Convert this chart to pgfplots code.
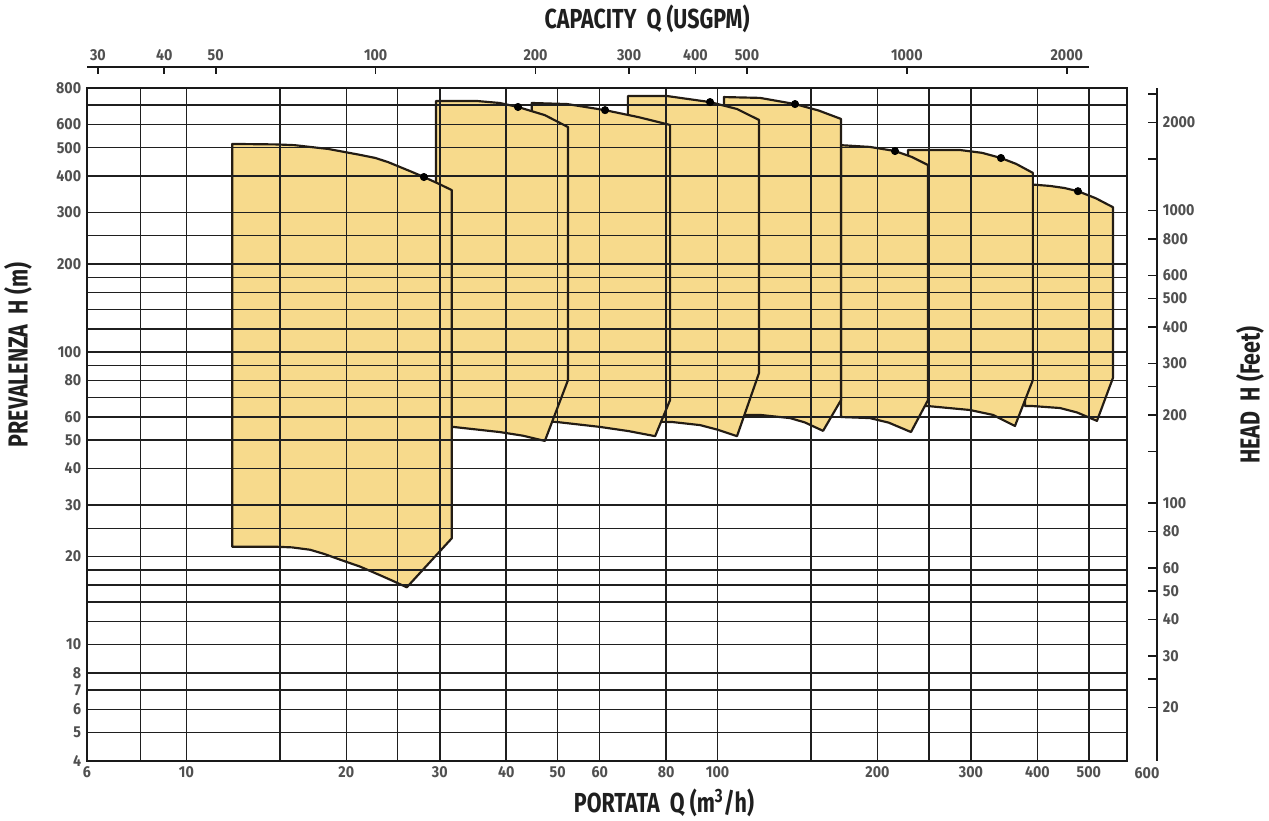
\documentclass[border=0pt]{standalone}
\usepackage{fontspec}
\setmainfont{Fira Sans}
\newfontfamily\labfont{Fira Sans}[FakeStretch=0.78]
\newfontfamily\tickfont{Fira Sans}[FakeStretch=0.9]
\usepackage{pgfplots}
\pgfplotsset{compat=1.18}
\definecolor{shapefill}{RGB}{247,218,140}
\definecolor{edge}{RGB}{35,28,20}
\definecolor{tickgray}{RGB}{80,80,80}
\begin{document}
\begin{tikzpicture}
\path[use as bounding box] (-52.2pt,-36pt) rectangle (709.2pt,456.6pt);
% main axis (m3/h, m)
\begin{axis}[
 at={(0pt,0pt)}, anchor=south west, scale only axis,
 width=624pt, height=403.8pt,
 xmode=log, ymode=log,
 xmin=6.5, xmax=590, ymin=4, ymax=800,
 axis on top,
 xtick={6.5,10,20,30,40,50,60,80,100,200,300,400,500},
 xticklabels={6,10,20,30,40,50,60,80,100,200,300,400,500},
 minor xtick={8.2,15,25,150,250},
 ytick={4,5,6,7,8,10,20,30,40,50,60,80,100,200,300,400,500,600,800},
 yticklabels={4,5,6,7,8,10,20,30,40,50,60,80,100,200,300,400,500,600,800},
 minor ytick={12,14,16,18,25,70,90,120,140,160,180,250,700},
 grid=both,
 major grid style={draw=black!88, line width=0.85pt},
 minor grid style={draw=black!88, line width=0.85pt},
 major tick length=0pt, minor tick length=0pt,
 axis line style={line width=1.7pt, draw=black!90},
 tick label style={font=\tickfont\bfseries\fontsize{9.5}{11}\selectfont, text=tickgray},
 clip=false,
]
\addplot[fill=shapefill, draw=edge, line width=1.3pt, line join=round] coordinates {(379.1,376)(400,373)(422.6,370)(450,364)(476.9,355)(515,336)(555.1,313)(555.1,81.6)(517.9,58.2)(475,62.2)(441.2,64.4)(392.4,65.4)(379.1,65.4)} -- cycle;
\addplot[fill=shapefill, draw=edge, line width=1.3pt, line join=round] coordinates {(228.3,491)(286,491)(315,480)(341.6,461)(365,440)(392.4,410)(392.4,80.3)(363,55.9)(330,61)(298.7,63.4)(249,65.4)(228.3,65.4)} -- cycle;
\addplot[fill=shapefill, draw=edge, line width=1.3pt, line join=round] coordinates {(170.8,510)(193.6,503)(215.8,487)(232,465)(249,436)(249,68.6)(231.3,53.3)(210,57.4)(193.6,59.5)(170.8,60)} -- cycle;
\addplot[fill=shapefill, draw=edge, line width=1.3pt, line join=round] coordinates {(102.8,745)(120.2,740)(139.9,705)(155,670)(170.8,627)(170.8,68.6)(158,53.8)(146,57.5)(136.9,59.5)(120.2,61)(102.8,61)} -- cycle;
\addplot[fill=shapefill, draw=edge, line width=1.3pt, line join=round] coordinates {(67.8,750.8)(80.4,750.8)(96.8,716)(108.8,678)(119.7,622)(119.7,84.9)(108.8,51.6)(100,54.3)(92.7,56.3)(82.1,57.7)(67.8,58)} -- cycle;
\addplot[fill=shapefill, draw=edge, line width=1.3pt, line join=round] coordinates {(44.7,711)(52.1,705)(61.4,672)(71,636)(81.4,598)(81.4,68.6)(76.3,51.6)(68,53.7)(60.1,55.5)(49.8,57.7)(44.7,58.3)} -- cycle;
\addplot[fill=shapefill, draw=edge, line width=1.3pt, line join=round] coordinates {(29.5,722)(35.3,722)(38.9,711)(42.1,689)(47.3,646)(52.3,588)(52.3,80.3)(47.3,49.7)(43,51.8)(38.9,53.3)(31.8,55.5)(29.5,55.5)} -- cycle;
\addplot[fill=shapefill, draw=edge, line width=1.3pt, line join=round] coordinates {(12.2,515)(14.8,513)(16,510)(17.1,503)(18.5,495)(19.9,483)(21.3,472)(22.7,461)(24,446)(25.2,430)(26.6,413)(28,397)(29.8,377)(31.6,358)(31.6,23.1)(26.0,15.7)(24.5,16.5)(23.1,17.3)(21.2,18.5)(19.5,19.5)(18.2,20.4)(17.1,21.1)(15.8,21.5)(14.8,21.6)(12.2,21.6)} -- cycle;
\addplot[only marks, mark=*, mark size=2.2pt, color=black] coordinates {(28,397)(42.1,689)(61.4,672)(96.8,716)(139.9,705)(215.8,487)(341.6,461)(476.9,355)};
\end{axis}
% top axis (USGPM)
\begin{axis}[
 at={(0pt,0pt)}, anchor=south west, scale only axis,
 width=601.2pt, height=416.4pt,
 xmode=log, xmin=28.62, xmax=2202.6, ymin=0, ymax=1,
 axis x line*=top, hide y axis,
 xtick={30,40,50,100,200,300,400,500,1000,2000},
 xticklabels={30,40,50,100,200,300,400,500,1000,2000},
 tick align=inside, major tick length=4.5pt,
 x axis line style={line width=1.7pt, draw=black!90},
 tick style={line width=1pt, draw=black!90},
 tick label style={font=\tickfont\bfseries\fontsize{9.5}{11}\selectfont, text=tickgray},
]
\end{axis}
% right axis (feet)
\begin{axis}[
 at={(632pt,0pt)}, anchor=south west, scale only axis,
 width=10pt, height=403.8pt,
 ymode=log, ymin=13.124, ymax=2624.8, xmin=0, xmax=1,
 axis y line*=right, hide x axis,
 ytick={20,30,40,50,60,80,100,200,300,400,500,600,800,1000,2000},
 yticklabels={20,30,40,50,60,80,100,200,300,400,500,600,800,1000,2000},
 minor ytick={25,150,250,1500,2500},
 tick align=inside, major tick length=5.4pt, minor tick length=5.4pt,
 y axis line style={line width=1.7pt, draw=black!90},
 tick style={line width=1pt, draw=black!90},
 tick label style={font=\tickfont\bfseries\fontsize{9.5}{11}\selectfont, text=tickgray},
]
\end{axis}
\node[font=\labfont\bfseries\fontsize{16.5}{18}\selectfont, text=black!88] at (336pt,445.2pt) {CAPACITY\ \ Q (USGPM)};
\node[font=\labfont\bfseries\fontsize{16.5}{18}\selectfont, text=black!88, rotate=90] at (-41.4pt,243.6pt) {PREVALENZA\ \ H (m)};
\node[font=\labfont\bfseries\fontsize{16.5}{18}\selectfont, text=black!88, rotate=90] at (697.8pt,219.6pt) {HEAD\ \ H (Feet)};
\node[font=\labfont\bfseries\fontsize{16.5}{18}\selectfont, text=black!88] at (346.2pt,-25.2pt) {PORTATA\ \ Q (m\textsuperscript{3}/h)};
\node[font=\tickfont\bfseries\fontsize{9.5}{11}\selectfont, text=tickgray] at (636pt,-7.2pt) {600};
\end{tikzpicture}
\end{document}
